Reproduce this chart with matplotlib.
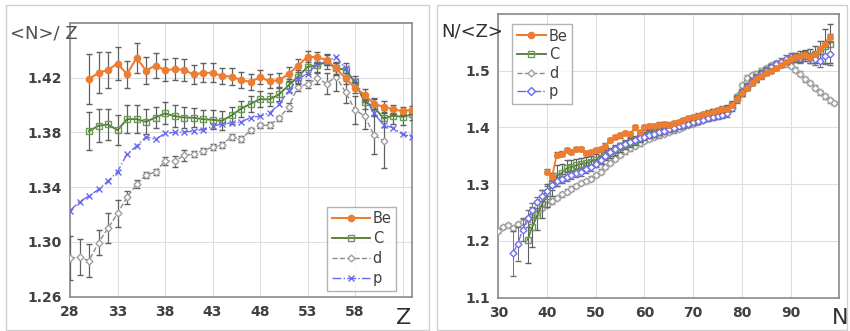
#!/usr/bin/env python3
# -*- coding: utf-8 -*-

import numpy as np
import matplotlib
matplotlib.use("Agg")
import matplotlib.pyplot as plt
from matplotlib.patches import Rectangle
from matplotlib.lines import Line2D

# ---- left panel: <N>/Z vs Z ----
z_be = np.arange(30, 65)
be_l = [1.4188, 1.4234, 1.4256, 1.4302, 1.4224, 1.4343, 1.4251, 1.4287, 1.4253, 1.4261,
        1.4256, 1.4222, 1.4234, 1.4234, 1.4212, 1.4207, 1.4181, 1.4168, 1.4202, 1.4173,
        1.4181, 1.4224, 1.4287, 1.4351, 1.4348, 1.4329, 1.4266, 1.4195, 1.4125, 1.4074,
        1.4008, 1.3986, 1.3967, 1.3955, 1.3964]
be_l_err = [0.018, 0.015, 0.013, 0.012, 0.010, 0.011, 0.010, 0.009, 0.008, 0.008,
            0.008, 0.007, 0.007, 0.007, 0.006, 0.006, 0.006, 0.006, 0.005, 0.005,
            0.005, 0.005, 0.005, 0.004, 0.004, 0.004, 0.004, 0.004, 0.004, 0.004,
            0.004, 0.004, 0.003, 0.003, 0.003]

z_c = np.arange(30, 65)
c_l = [1.3809, 1.3848, 1.3857, 1.3816, 1.3896, 1.3896, 1.3877, 1.3908, 1.3938, 1.3918,
       1.3908, 1.3906, 1.3896, 1.3891, 1.3884, 1.3923, 1.3972, 1.4008, 1.4042, 1.4040,
       1.4076, 1.4142, 1.4205, 1.4278, 1.4290, 1.4312, 1.4266, 1.4258, 1.4164, 1.4023,
       1.3986, 1.3901, 1.3921, 1.3913, 1.3930]
c_l_err = [0.014, 0.012, 0.011, 0.011, 0.010, 0.010, 0.009, 0.008, 0.008, 0.008,
           0.008, 0.007, 0.007, 0.007, 0.007, 0.006, 0.006, 0.006, 0.006, 0.005,
           0.005, 0.005, 0.005, 0.005, 0.005, 0.005, 0.005, 0.005, 0.005, 0.005,
           0.006, 0.006, 0.006, 0.006, 0.004]

z_d = np.arange(28, 62)
d_l = [1.2880, 1.2888, 1.2863, 1.2995, 1.3099, 1.3208, 1.3325, 1.3420, 1.3488, 1.3510,
       1.3592, 1.3588, 1.3631, 1.3641, 1.3665, 1.3692, 1.3709, 1.3767, 1.3750, 1.3814,
       1.3850, 1.3853, 1.3901, 1.3986, 1.4132, 1.4151, 1.4193, 1.4156, 1.4205, 1.4095,
       1.3962, 1.3921, 1.3780, 1.3738]
d_l_err = [0.016, 0.013, 0.012, 0.009, 0.011, 0.010, 0.005, 0.003, 0.002, 0.002,
           0.003, 0.004, 0.004, 0.002, 0.002, 0.002, 0.002, 0.002, 0.002, 0.002,
           0.002, 0.002, 0.002, 0.003, 0.003, 0.003, 0.004, 0.008, 0.010, 0.008,
           0.010, 0.010, 0.014, 0.020]

z_p = np.arange(28, 65)
p_l = [1.3228, 1.3294, 1.3335, 1.3383, 1.3444, 1.3512, 1.3641, 1.3699, 1.3767, 1.3748,
       1.3792, 1.3799, 1.3801, 1.3811, 1.3820, 1.3843, 1.3862, 1.3869, 1.3874, 1.3908,
       1.3918, 1.3940, 1.4003, 1.4103, 1.4190, 1.4229, 1.4297, 1.4314, 1.4351, 1.4266,
       1.4173, 1.4059, 1.3938, 1.3853, 1.3833, 1.3785, 1.3767]

left_xticks = [28, 33, 38, 43, 48, 53, 58, 63]
left_yticks = [1.26, 1.30, 1.34, 1.38, 1.42, 1.46]

# ---- right panel: N/<Z> vs N ----
n_be = np.arange(40, 99)
be_r = [1.322, 1.312, 1.352, 1.354, 1.360, 1.357, 1.362, 1.362, 1.355, 1.357,
        1.360, 1.362, 1.368, 1.378, 1.383, 1.386, 1.390, 1.388, 1.400, 1.392,
        1.400, 1.402, 1.403, 1.405, 1.406, 1.405, 1.408, 1.410, 1.413, 1.416,
        1.418, 1.421, 1.424, 1.426, 1.428, 1.430, 1.432, 1.433, 1.440, 1.450,
        1.460, 1.470, 1.478, 1.485, 1.490, 1.496, 1.500, 1.505, 1.510, 1.515,
        1.520, 1.525, 1.526, 1.527, 1.524, 1.530, 1.538, 1.548, 1.560]

n_c = np.arange(36, 99)
c_r = [1.202, 1.225, 1.245, 1.265, 1.280, 1.300, 1.315, 1.320, 1.328, 1.330,
       1.333, 1.336, 1.337, 1.340, 1.343, 1.346, 1.352, 1.355, 1.360, 1.365,
       1.370, 1.373, 1.377, 1.382, 1.385, 1.388, 1.391, 1.394, 1.396, 1.399,
       1.402, 1.405, 1.408, 1.411, 1.414, 1.417, 1.420, 1.423, 1.426, 1.428,
       1.431, 1.433, 1.440, 1.452, 1.462, 1.472, 1.480, 1.487, 1.493, 1.499,
       1.504, 1.508, 1.512, 1.517, 1.521, 1.523, 1.525, 1.527, 1.526, 1.528,
       1.535, 1.543, 1.548]
c_r_err = [0.040, 0.035, 0.025, 0.025, 0.020, 0.020, 0.018, 0.015, 0.015, 0.012,
           0.012, 0.011, 0.011, 0.010, 0.010, 0.010, 0.009, 0.009, 0.009, 0.008,
           0.008, 0.008, 0.008, 0.008, 0.007, 0.007, 0.007, 0.007, 0.006, 0.006,
           0.006, 0.006, 0.006, 0.006, 0.006, 0.006, 0.006, 0.006, 0.006, 0.006,
           0.006, 0.006, 0.006, 0.006, 0.006, 0.006, 0.006, 0.006, 0.006, 0.006,
           0.006, 0.006, 0.006, 0.006, 0.006, 0.008, 0.010, 0.010, 0.012, 0.015,
           0.018, 0.030, 0.035]

n_d = np.arange(30, 100)
d_r = [1.218, 1.225, 1.228, 1.222, 1.230, 1.234, 1.238, 1.243, 1.250, 1.258,
       1.264, 1.270, 1.276, 1.282, 1.287, 1.292, 1.297, 1.302, 1.306, 1.310,
       1.316, 1.322, 1.330, 1.338, 1.345, 1.352, 1.358, 1.363, 1.368, 1.372,
       1.377, 1.380, 1.383, 1.386, 1.389, 1.392, 1.395, 1.398, 1.401, 1.404,
       1.407, 1.410, 1.413, 1.416, 1.419, 1.422, 1.425, 1.428, 1.440, 1.455,
       1.475, 1.488, 1.492, 1.495, 1.500, 1.505, 1.510, 1.514, 1.515, 1.512,
       1.508, 1.502, 1.495, 1.485, 1.478, 1.470, 1.462, 1.455, 1.448, 1.443]

n_p = np.arange(33, 99)
p_r = [1.178, 1.195, 1.220, 1.240, 1.255, 1.268, 1.280, 1.288, 1.298, 1.305,
       1.310, 1.313, 1.316, 1.319, 1.322, 1.326, 1.330, 1.336, 1.343, 1.350,
       1.356, 1.362, 1.367, 1.371, 1.375, 1.378, 1.381, 1.384, 1.387, 1.389,
       1.392, 1.394, 1.397, 1.399, 1.402, 1.404, 1.406, 1.409, 1.411, 1.414,
       1.416, 1.418, 1.420, 1.422, 1.425, 1.435, 1.450, 1.462, 1.472, 1.481,
       1.488, 1.495, 1.500, 1.506, 1.511, 1.516, 1.521, 1.525, 1.524, 1.522,
       1.526, 1.522, 1.520, 1.518, 1.526, 1.530]
p_r_err = [0.040, 0.030, 0.020, 0.015, 0.012, 0.010, 0.010, 0.009, 0.009, 0.008,
           0.008, 0.008, 0.007, 0.007, 0.007, 0.007, 0.006, 0.006, 0.006, 0.006,
           0.006, 0.006, 0.005, 0.005, 0.005, 0.005, 0.005, 0.005, 0.005, 0.005,
           0.005, 0.005, 0.005, 0.005, 0.005, 0.005, 0.005, 0.005, 0.005, 0.005,
           0.005, 0.005, 0.005, 0.005, 0.006, 0.006, 0.006, 0.006, 0.006, 0.006,
           0.006, 0.006, 0.006, 0.006, 0.006, 0.006, 0.006, 0.006, 0.008, 0.008,
           0.008, 0.008, 0.010, 0.012, 0.015, 0.020]

right_xticks = [30, 40, 50, 60, 70, 80, 90, 100]
right_yticks = [1.1, 1.2, 1.3, 1.4, 1.5, 1.6]

series_names = ["Be", "C", "d", "p"]

# colours
ORANGE = "#ED7D31"
GREEN = "#4E7A34"
GRAY = "#8C8C8C"
BLUE = "#6A6AF0"
ERR = "#606060"

plt.rcParams['font.family'] = ['DejaVu Sans']

fig = plt.figure(figsize=(8.5, 3.31), dpi=100)

# outer frames of the two chart boxes
fig.patches.append(Rectangle((6 / 850, 1 - 330 / 331), 423 / 850, 325 / 331,
                             transform=fig.transFigure, fill=False,
                             edgecolor="#d0d0d0", lw=1.0))
fig.patches.append(Rectangle((437 / 850, 1 - 330 / 331), 410 / 850, 325 / 331,
                             transform=fig.transFigure, fill=False,
                             edgecolor="#d0d0d0", lw=1.0))


def style_axes(ax, xticks, yticks, xlabels, ylabels):
    ax.set_xticks(xticks)
    ax.set_yticks(yticks)
    ax.set_xticklabels(xlabels, fontsize=10, fontweight="bold", color="#404040")
    ax.set_yticklabels(ylabels, fontsize=10, fontweight="bold", color="#404040")
    ax.tick_params(length=0, pad=6)
    ax.grid(True, color="#dedede", lw=0.8)
    ax.set_axisbelow(True)
    for s in ax.spines.values():
        s.set_color("#8a8a8a")
        s.set_linewidth(1.2)


def legend_handles(p_marker):
    return [
        Line2D([], [], color=ORANGE, lw=1.5, marker="o", ms=4.5),
        Line2D([], [], color=GREEN, lw=1.3, marker="s", ms=5, mfc="none", mec="#6a9a50"),
        Line2D([], [], color=GRAY, lw=1.0, ls="--", marker="D", ms=3.5, mfc="white",
               mec="#a0a0a0"),
        Line2D([], [], color=BLUE, lw=1.0, ls="-.", marker=p_marker, ms=4,
               mfc="white", mec=BLUE),
    ]


# ---------------- left ----------------
ax1 = fig.add_axes([70 / 850, 1 - 296.7 / 331, 342 / 850, 274 / 331])
ax1.errorbar(z_d, d_l, yerr=d_l_err, color=GRAY, ls="--", lw=1.0, marker="D", ms=3.5,
             mfc="white", mec="#a0a0a0", ecolor=ERR, elinewidth=0.9, capsize=2.5,
             zorder=3)
ax1.errorbar(z_c, c_l, yerr=c_l_err, color=GREEN, ls="-", lw=1.3, marker="s", ms=5,
             mfc="none", mec="#6a9a50", ecolor=ERR, elinewidth=0.9, capsize=2.5,
             zorder=4)
ax1.plot(z_p, p_l, color=BLUE, ls="-.", lw=1.0, marker="x", ms=4.5, mew=1.0, zorder=5)
ax1.errorbar(z_be, be_l, yerr=be_l_err, color=ORANGE, ls="-", lw=1.5, marker="o", ms=4.5,
             ecolor=ERR, elinewidth=0.9, capsize=2.5, zorder=6)
ax1.set_xlim(28, 64)
ax1.set_ylim(1.26, 1.46)
style_axes(ax1, left_xticks, left_yticks,
           [str(t) for t in left_xticks[:-1]] + [""],
           ["%.2f" % t for t in left_yticks[:-1]] + [""])
leg1 = ax1.legend(legend_handles("x"), series_names, loc="lower right",
                  bbox_to_anchor=(0.97, 0.0), fontsize=10.5, frameon=True,
                  fancybox=False, edgecolor="#a0a0a0", handlelength=2.6,
                  labelspacing=0.35, borderpad=0.3, handletextpad=0.2,
                  borderaxespad=0.4)
for t in leg1.get_texts():
    t.set_color("#404040")
fig.text(10 / 850, 1 - 33 / 331, "<N>/ Z", fontsize=13, color="#505050", va="center")
fig.text(404 / 850, 1 - 318 / 331, "Z", fontsize=16, color="#303030", va="center",
         ha="center")

# ---------------- right ----------------
ax2 = fig.add_axes([498.3 / 850, 1 - 297.7 / 331, 341 / 850, 283.7 / 331])
ax2.errorbar(n_d, d_r, yerr=0.004, color=GRAY, ls="--", lw=0.9, marker="D", ms=3.5,
             mfc="white", mec="#a0a0a0", ecolor="#909090", elinewidth=0.7, capsize=2,
             zorder=3)
ax2.errorbar(n_c, c_r, yerr=c_r_err, color=GREEN, ls="-", lw=1.2, marker="s", ms=4.5,
             mfc="none", mec="#6a9a50", ecolor=ERR, elinewidth=0.8, capsize=2.5,
             zorder=4)
ax2.errorbar(n_p, p_r, yerr=p_r_err, color=BLUE, ls="-.", lw=0.9, marker="D", ms=3.5,
             mfc="white", mec="#7070ee", ecolor="#707070", elinewidth=0.7, capsize=2,
             zorder=5)
ax2.errorbar(n_be, be_r, yerr=0.004, color=ORANGE, ls="-", lw=1.3, marker="o", ms=4,
             ecolor=ERR, elinewidth=0.7, capsize=2, zorder=6)
ax2.set_xlim(30, 100)
ax2.set_ylim(1.1, 1.6)
style_axes(ax2, right_xticks, right_yticks,
           [str(t) for t in right_xticks[:-1]] + [""],
           ["%.1f" % t for t in right_yticks[:-1]] + [""])
leg2 = ax2.legend(legend_handles("D"), series_names, loc="upper left",
                  bbox_to_anchor=(0.02, 0.99), fontsize=10.5, frameon=True,
                  fancybox=False, edgecolor="#a0a0a0", handlelength=2.0,
                  labelspacing=0.25, borderpad=0.3, handletextpad=0.2)
for t in leg2.get_texts():
    t.set_color("#404040")
fig.text(441 / 850, 1 - 32 / 331, "N/<Z>", fontsize=13, color="#303030", va="center")
fig.text(840 / 850, 1 - 318 / 331, "N", fontsize=16, color="#303030", va="center",
         ha="center")

fig.savefig("out.png", dpi=100)
plt.close(fig)
